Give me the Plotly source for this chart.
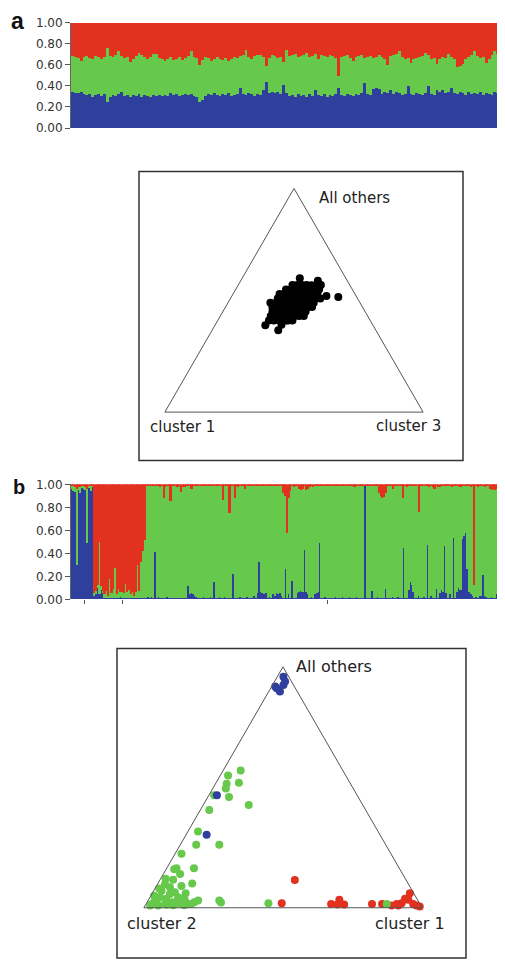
import numpy as np
import plotly.graph_objects as go

# ---------------- data ----------------
# Panel a: STRUCTURE-like membership (blue, red); green is the remainder
blue_a = [0.35,0.34,0.34,0.35,0.33,0.32,0.33,0.30,0.32,0.33,
          0.31,0.33,0.25,0.30,0.32,0.31,0.33,0.35,0.31,0.32,
          0.30,0.32,0.31,0.33,0.30,0.32,0.31,0.30,0.32,0.31,
          0.32,0.31,0.32,0.31,0.34,0.32,0.33,0.31,0.32,0.33,
          0.32,0.33,0.31,0.30,0.25,0.27,0.31,0.33,0.32,0.34,
          0.32,0.31,0.33,0.32,0.34,0.31,0.32,0.33,0.38,0.33,
          0.32,0.34,0.33,0.31,0.33,0.32,0.36,0.44,0.34,0.35,
          0.34,0.35,0.33,0.41,0.34,0.31,0.32,0.30,0.33,0.31,
          0.32,0.30,0.33,0.31,0.36,0.32,0.31,0.33,0.30,0.32,
          0.31,0.33,0.38,0.32,0.31,0.33,0.32,0.31,0.33,0.32,
          0.34,0.43,0.33,0.32,0.37,0.38,0.37,0.33,0.35,0.34,
          0.36,0.33,0.35,0.34,0.32,0.33,0.40,0.33,0.32,0.34,
          0.33,0.32,0.34,0.40,0.33,0.32,0.36,0.35,0.36,0.34,
          0.35,0.38,0.34,0.33,0.35,0.34,0.32,0.35,0.33,0.34,
          0.33,0.35,0.32,0.34,0.33,0.32,0.35,0.34,0.33,0.35]
red_a = [0.31,0.32,0.33,0.36,0.32,0.31,0.33,0.34,0.31,0.32,
         0.34,0.32,0.24,0.31,0.32,0.30,0.27,0.31,0.33,0.32,
         0.37,0.34,0.31,0.28,0.30,0.32,0.34,0.32,0.29,0.29,
         0.33,0.34,0.36,0.34,0.32,0.35,0.34,0.32,0.35,0.33,
         0.31,0.27,0.32,0.33,0.40,0.35,0.32,0.33,0.36,0.34,
         0.32,0.34,0.35,0.33,0.36,0.34,0.32,0.33,0.31,0.30,
         0.26,0.32,0.34,0.31,0.30,0.30,0.32,0.41,0.33,0.30,
         0.31,0.33,0.32,0.37,0.26,0.31,0.30,0.29,0.32,0.31,
         0.30,0.28,0.32,0.31,0.29,0.34,0.30,0.31,0.32,0.30,
         0.31,0.33,0.50,0.32,0.31,0.30,0.33,0.36,0.32,0.31,
         0.30,0.33,0.32,0.31,0.33,0.32,0.30,0.32,0.34,0.40,
         0.31,0.30,0.29,0.27,0.32,0.34,0.33,0.38,0.34,0.33,
         0.32,0.31,0.28,0.30,0.34,0.33,0.39,0.34,0.32,0.33,
         0.29,0.32,0.34,0.42,0.41,0.39,0.34,0.32,0.30,0.27,
         0.31,0.33,0.32,0.38,0.34,0.30,0.27,0.29,0.34,0.30]

# Panel b membership (blue, red); green is the remainder
blue_b = [0.96,0.94,0.93,0.30,0.95,0.92,0.97,0.96,0.95,0.49,
          0.97,0.94,0.97,0.03,0.04,0.10,0.04,0.08,0.05,0.01,
          0.01,0.01,0.01,0.01,0.01,0.01,0.01,0.01,0.02,0.01,
          0.01,0.01,0.01,0.01,0.01,0.01,0.01,0.01,0.01,0.01,
          0.01,0.01,0.01,0.01,0.02,0.01,0.02,0.01,0.41,0.01,
          0.02,0.01,0.01,0.01,0.01,0.02,0.01,0.01,0.01,0.01,
          0.01,0.01,0.01,0.01,0.01,0.01,0.01,0.11,0.04,0.05,
          0.04,0.03,0.02,0.01,0.01,0.01,0.02,0.01,0.01,0.01,
          0.02,0.01,0.15,0.01,0.01,0.02,0.01,0.01,0.02,0.01,
          0.01,0.01,0.01,0.22,0.01,0.01,0.01,0.02,0.01,0.01,
          0.01,0.02,0.01,0.01,0.01,0.03,0.01,0.05,0.32,0.06,
          0.05,0.04,0.05,0.01,0.02,0.01,0.04,0.03,0.05,0.04,
          0.05,0.03,0.01,0.26,0.01,0.04,0.01,0.16,0.01,0.01,
          0.05,0.06,0.07,0.06,0.43,0.06,0.04,0.01,0.02,0.01,
          0.04,0.05,0.06,0.49,0.01,0.01,0.02,0.01,0.01,0.01,
          0.01,0.01,0.02,0.01,0.01,0.01,0.02,0.01,0.01,0.01,
          0.02,0.01,0.01,0.01,0.02,0.01,0.01,0.01,0.01,0.99,
          0.01,0.01,0.01,0.07,0.01,0.01,0.02,0.01,0.01,0.01,
          0.01,0.09,0.01,0.01,0.01,0.02,0.01,0.01,0.02,0.01,
          0.01,0.44,0.01,0.01,0.08,0.15,0.12,0.06,0.01,0.01,
          0.03,0.01,0.01,0.02,0.01,0.47,0.01,0.03,0.01,0.01,
          0.09,0.01,0.05,0.08,0.06,0.46,0.05,0.01,0.04,0.01,
          0.53,0.01,0.06,0.10,0.08,0.52,0.55,0.57,0.26,0.06,
          0.04,0.03,0.01,0.02,0.01,0.03,0.03,0.21,0.03,0.02,
          0.01,0.01,0.02,0.01,0.01,0.04,0.01,0.03,0.01,0.04]
red_b = [0.02,0.02,0.03,0.04,0.03,0.03,0.02,0.02,0.03,0.04,
         0.02,0.02,0.01,0.95,0.93,0.88,0.50,0.89,0.93,0.96,
         0.93,0.97,0.83,0.95,0.91,0.73,0.96,0.91,0.94,0.94,
         0.95,0.87,0.94,0.92,0.96,0.94,0.97,0.94,0.70,0.93,
         0.68,0.58,0.49,0.01,0.01,0.02,0.01,0.02,0.01,0.02,
         0.01,0.03,0.01,0.12,0.03,0.01,0.01,0.15,0.01,0.02,
         0.01,0.03,0.01,0.07,0.03,0.03,0.02,0.01,0.01,0.04,
         0.01,0.01,0.01,0.02,0.01,0.01,0.01,0.01,0.02,0.01,
         0.01,0.01,0.01,0.01,0.02,0.01,0.01,0.14,0.01,0.02,
         0.01,0.25,0.01,0.01,0.12,0.01,0.03,0.01,0.01,0.01,
         0.04,0.01,0.01,0.01,0.02,0.01,0.01,0.01,0.01,0.01,
         0.01,0.01,0.01,0.02,0.01,0.01,0.01,0.01,0.01,0.02,
         0.01,0.01,0.08,0.10,0.43,0.12,0.06,0.01,0.03,0.01,
         0.01,0.04,0.05,0.04,0.01,0.05,0.04,0.03,0.01,0.03,
         0.01,0.01,0.01,0.01,0.02,0.01,0.01,0.01,0.02,0.01,
         0.01,0.01,0.01,0.02,0.01,0.01,0.01,0.01,0.02,0.01,
         0.01,0.01,0.01,0.03,0.01,0.01,0.01,0.02,0.01,0.01,
         0.01,0.01,0.02,0.01,0.01,0.01,0.01,0.08,0.10,0.12,
         0.11,0.08,0.01,0.01,0.01,0.04,0.01,0.01,0.01,0.02,
         0.01,0.12,0.01,0.03,0.01,0.01,0.01,0.01,0.02,0.01,
         0.24,0.01,0.02,0.01,0.01,0.01,0.03,0.01,0.03,0.04,
         0.01,0.03,0.03,0.01,0.01,0.01,0.01,0.02,0.01,0.03,
         0.01,0.02,0.01,0.01,0.03,0.01,0.01,0.01,0.02,0.01,
         0.03,0.01,0.88,0.01,0.03,0.01,0.01,0.01,0.03,0.01,
         0.02,0.04,0.05,0.04,0.05,0.04,0.03,0.01,0.02,0.01]
pop_ticks_b = [7.5, 29.3, 147.4]

# Triangle a: fraction "All others" (apex) and "cluster 3" (right); cluster 1 is remainder
tri_a_others = [0.410,0.449,0.430,0.411,0.391,0.489,0.469,0.450,0.430,0.410,
                0.508,0.489,0.469,0.450,0.430,0.528,0.548,0.529,0.508,0.489,
                0.470,0.450,0.430,0.568,0.548,0.528,0.509,0.489,0.469,0.568,
                0.548,0.529,0.509,0.489,0.567,0.548,0.529,0.508,0.568,0.587,
                0.515,0.388,0.455,0.500,0.540,0.475,
                0.410,0.430,0.469,0.450,0.430,0.410,0.508,0.489,0.469,0.449,
                0.430,0.410,0.528,0.509,0.489,0.469,0.450,0.430,0.548,0.528,
                0.509,0.489,0.469,0.450,0.568,0.548,0.529,0.509,0.489,0.470,
                0.568,0.548,0.528,0.509,0.568,0.548,
                0.467,0.489,0.599,0.366,0.519,0.476,0.410]
tri_a_c3 = [0.198,0.192,0.213,0.234,0.256,0.186,0.208,0.229,0.250,0.272,
            0.201,0.223,0.244,0.265,0.287,0.180,0.195,0.216,0.238,0.259,
            0.280,0.302,0.323,0.210,0.231,0.253,0.274,0.295,0.317,0.247,
            0.268,0.290,0.311,0.332,0.284,0.305,0.326,0.348,0.320,0.299,
            0.414,0.195,0.245,0.262,0.283,0.300,
            0.217,0.195,0.189,0.210,0.232,0.253,0.183,0.204,0.225,0.247,
            0.268,0.289,0.198,0.219,0.241,0.262,0.283,0.305,0.214,0.235,
            0.256,0.278,0.299,0.320,0.229,0.250,0.271,0.293,0.314,0.335,
            0.265,0.286,0.308,0.329,0.302,0.323,
            0.183,0.164,0.223,0.256,0.366,0.331,0.264]

# Triangle b: "All others" (apex) and "cluster 1" (right); cluster 2 is remainder
tri_b_green_others = [0.570,0.549,0.519,0.515,0.495,0.460,0.467,0.426,0.406,0.317,
                      0.262,0.262,0.224,0.164,0.160,0.164,0.116,0.101,0.098,0.085,
                      0.071,0.064,0.057,0.044,0.044,0.037,0.037,0.033,0.030,0.030,
                      0.023,0.023,0.023,0.022,0.019,0.016,0.016,0.016,0.016,0.016,
                      0.016,0.016,0.009,0.009,0.050,0.080,0.120,0.140,0.090,0.060,
                      0.030,0.010,0.010,0.012]
tri_b_green_c1 = [0.063,0.028,0.082,0.040,0.047,0.076,0.019,0.164,0.032,0.036,
                  0.057,0.140,0.023,0.035,0.029,0.098,0.047,0.123,0.027,0.051,
                  0.028,0.079,0.065,0.101,0.036,0.063,0.122,0.130,0.025,0.256,
                  0.170,0.093,0.034,0.266,0.438,0.020,0.068,0.103,0.127,0.150,
                  0.162,0.865,0.047,0.018,0.012,0.015,0.018,0.060,0.090,0.120,
                  0.180,0.140,0.100,0.075]
tri_b_red_others = [0.115,0.019,0.016,0.033,0.0135,0.0135,0.016,0.016,0.016,0.019,
                    0.060,0.033,0.016,0.009,0.005,0.009,0.009,0.037]
tri_b_red_c1 = [0.485,0.486,0.665,0.686,0.713,0.689,0.812,0.848,0.901,0.917,
                0.926,0.934,0.960,0.975,0.989,0.910,0.886,0.920]
tri_b_blue_others = [0.959,0.939,0.911,0.898,0.918,0.925,0.467,0.303]
tri_b_blue_c1 = [0.022,0.038,0.022,0.040,0.013,0.039,0.029,0.074]

# ---------------- style ----------------
RED = "#e2311e"
GREEN = "#66c94b"
BLUE = "#2f3f9e"
OFF = 8                      # page body margin of the browser
W, H = 505 - OFF, 966 - OFF
FONT = "DejaVu Sans"


def px_x(p):
    return (p - OFF) / W


def px_y(p):
    return 1 - (p - OFF) / H


fig = go.Figure()

# Panel a bars
xa = list(range(len(blue_a)))
green_a = list(np.round(1 - np.array(blue_a) - np.array(red_a), 3))
for vals, col in [(blue_a, BLUE), (green_a, GREEN), (red_a, RED)]:
    fig.add_trace(go.Bar(x=xa, y=vals, marker=dict(color=col, line=dict(width=0)),
                         xaxis="x", yaxis="y", showlegend=False, hoverinfo="skip"))

# Panel b bars
xb = list(range(len(blue_b)))
green_b = list(np.round(1 - np.array(blue_b) - np.array(red_b), 3))
for vals, col in [(blue_b, BLUE), (green_b, GREEN), (red_b, RED)]:
    fig.add_trace(go.Bar(x=xb, y=vals, marker=dict(color=col, line=dict(width=0)),
                         xaxis="x2", yaxis="y2", showlegend=False, hoverinfo="skip"))

# Triangle a
b_a = list(np.round(1 - np.array(tri_a_others) - np.array(tri_a_c3), 4))
fig.add_trace(go.Scatterternary(a=tri_a_others, b=b_a, c=tri_a_c3, mode="markers",
                                marker=dict(color="black", size=8, line=dict(width=0)),
                                subplot="ternary", cliponaxis=False, showlegend=False))

# Triangle b (order: red, green, blue)
for oth, c1, col in [(tri_b_red_others, tri_b_red_c1, RED),
                     (tri_b_green_others, tri_b_green_c1, GREEN),
                     (tri_b_blue_others, tri_b_blue_c1, BLUE)]:
    bb = list(np.round(1 - np.array(oth) - np.array(c1), 4))
    fig.add_trace(go.Scatterternary(a=oth, b=bb, c=c1, mode="markers",
                                    marker=dict(color=col, size=8, line=dict(width=0)),
                                    subplot="ternary2", cliponaxis=False, showlegend=False))

tern_axis = dict(showline=True, linecolor="#555", linewidth=1, showgrid=False,
                 showticklabels=False, ticks="", title=dict(text=""), min=0)

yax = dict(range=[0, 1], tickvals=[0, 0.2, 0.4, 0.6, 0.8, 1.0],
           ticktext=["0.00", "0.20", "0.40", "0.60", "0.80", "1.00"],
           ticks="outside", ticklen=5, tickcolor="#555", showline=True,
           linecolor="#666", linewidth=1, showgrid=False, zeroline=False,
           tickfont=dict(family=FONT, size=12, color="#333"))

fig.update_layout(
    width=W, height=H, margin=dict(l=0, r=0, t=0, b=0),
    paper_bgcolor="white", plot_bgcolor="white",
    barmode="stack", bargap=0,
    xaxis=dict(domain=[px_x(71), 1.0], range=[-0.5, len(blue_a) - 0.5],
               showticklabels=False, ticks="", showgrid=False, zeroline=False, showline=False),
    yaxis=dict(domain=[px_y(122.7), px_y(15.7)], anchor="x", **yax),
    xaxis2=dict(domain=[px_x(71), 1.0], range=[-0.5, len(blue_b) - 0.5], anchor="y2",
                tickvals=pop_ticks_b, ticktext=["", "", ""], ticks="outside", ticklen=4,
                tickcolor="#555", showgrid=False, zeroline=False, showline=False),
    yaxis2=dict(domain=[px_y(601), px_y(484.3)], anchor="x2", **yax),
    ternary=dict(domain=dict(x=[px_x(163), px_x(425)], y=[px_y(411), px_y(184)]),
                 sum=1, bgcolor="rgba(0,0,0,0)",
                 aaxis=tern_axis, baxis=tern_axis, caxis=tern_axis),
    ternary2=dict(domain=dict(x=[px_x(142), px_x(424)], y=[px_y(914), px_y(669.5)]),
                  sum=1, bgcolor="rgba(0,0,0,0)",
                  aaxis=tern_axis, baxis=tern_axis, caxis=tern_axis),
    shapes=[
        dict(type="rect", xref="paper", yref="paper", x0=px_x(139), x1=px_x(463),
             y0=px_y(460), y1=px_y(166.7), line=dict(color="#333", width=1.5),
             fillcolor="rgba(0,0,0,0)", layer="below"),
        dict(type="rect", xref="paper", yref="paper", x0=px_x(117), x1=px_x(466),
             y0=px_y(965), y1=px_y(651), line=dict(color="#333", width=1.5),
             fillcolor="rgba(0,0,0,0)", layer="below"),
    ],
)


def ann(text, x, y, xanchor="left", size=15, bold=False, family=FONT, color="#222"):
    fig.add_annotation(text=("<b>%s</b>" % text) if bold else text, xref="paper", yref="paper",
                       x=px_x(x), y=px_y(y), xanchor=xanchor, yanchor="middle",
                       showarrow=False, font=dict(family=family, size=size, color=color),
                       borderpad=0)


ann("a", 10, 14, size=23, bold=True, family="Liberation Sans", color="#111")
ann("b", 12, 487, size=20, bold=True, family="Liberation Sans", color="#111")
ann("All others", 318, 194, size=15)
ann("cluster 1", 149, 426.5, size=15)
ann("cluster 3", 442, 425, xanchor="right", size=15)
ann("All others", 295, 669, size=16)
ann("cluster 2", 126, 930, size=16)
ann("cluster 1", 446, 930, xanchor="right", size=16)

fig.write_html("out.html")
